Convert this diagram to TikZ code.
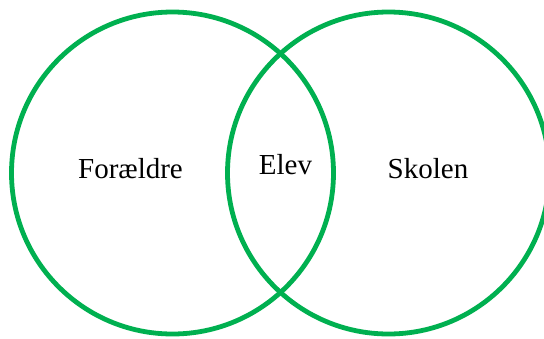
\documentclass[tikz,border=0pt]{standalone}
\usepackage{fontspec}
\setmainfont{Liberation Serif}
\definecolor{venngreen}{HTML}{00B050}
\begin{document}
\begin{tikzpicture}[x=1pt,y=-1pt,
  ring/.style={circle,draw=venngreen,line width=4.8pt,minimum size=322pt,inner sep=0pt},
  lbl/.style={anchor=base,inner sep=0pt,font=\fontsize{29}{34}\selectfont}]
\useasboundingbox (0,0) rectangle (544,338);
\clip (0,0) rectangle (544,338);
\node[ring] (left) at (172.5,173) {};
\node[ring] (right) at (388.5,173) {};
\node[lbl] (foraeldre) at (130.5,178) {Forældre};
\node[lbl] (elev) at (285.5,174) {Elev};
\node[lbl] (skolen) at (428,178) {Skolen};
\end{tikzpicture}
\end{document}
